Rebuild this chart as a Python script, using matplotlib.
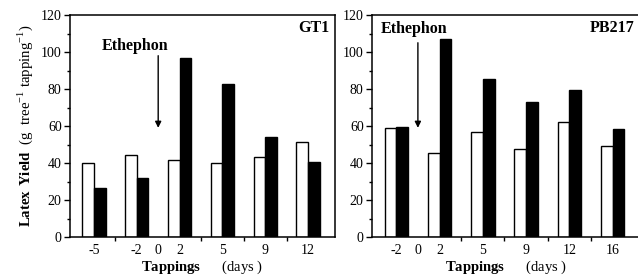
import matplotlib
matplotlib.use("Agg")
import matplotlib.pyplot as plt
import numpy as np

plt.rcParams['font.family'] = ['Liberation Serif', 'DejaVu Serif']
plt.rcParams['mathtext.fontset'] = 'custom'
plt.rcParams['mathtext.rm'] = 'Liberation Serif'
plt.rcParams['mathtext.bf'] = 'Liberation Serif:bold'

# GT1 clone
gt1_days = ['-5', '-2', '2', '5', '9', '12']
gt1_control = [40, 44.5, 41.5, 40, 43.5, 51.5]
gt1_ethephon = [26.5, 32, 97, 82.5, 54, 40.5]

# PB217 clone
pb_days = ['-2', '2', '5', '9', '12', '16']
pb_control = [58.8, 45.2, 56.8, 47.5, 62, 49.3]
pb_ethephon = [59.2, 107, 85.5, 73, 79.5, 58.5]

fig = plt.figure(figsize=(6.38, 2.76), dpi=100)
ax1 = fig.add_axes([70/638, 1-237/276, 265/638, 222/276])
ax2 = fig.add_axes([372/638, 1-237/276, 268/638, 222/276])

bar_w = 0.27


def panel(ax, days, control, treated, zero_pos, name, eth_xy, arrow_top):
    idx = np.arange(len(days))
    ax.bar(idx - bar_w/2, control, bar_w, color='white', edgecolor='black', linewidth=1.0)
    ax.bar(idx + bar_w/2, treated, bar_w, color='black', edgecolor='black', linewidth=1.0)
    ax.set_ylim(0, 120)
    ax.set_xlim(-0.56, 5.63)
    ax.set_yticks(np.arange(0, 121, 20))
    ax.set_yticks(np.arange(0, 121, 10), minor=True)
    ax.tick_params(axis='y', which='major', length=4, width=1, pad=2, labelsize=10)
    ax.tick_params(axis='y', which='minor', length=2, width=1)

    pos = list(idx) + [zero_pos]
    labels = list(days) + ['0']
    ax.set_xticks(pos)
    ax.set_xticklabels(labels)
    ax.set_xticks(idx[:-1] + 0.5, minor=True)
    ax.tick_params(axis='x', which='major', length=0, pad=5, labelsize=10)
    ax.tick_params(axis='x', which='minor', length=3, width=1)
    for s in ax.spines.values():
        s.set_linewidth(1.1)

    ax.set_xlabel(r'$\bf{Tappings}$      (days )', fontsize=10.5, labelpad=1)
    ax.text(5.5, 113, name, ha='right', va='center', fontsize=11.5, fontweight='bold')
    ax.text(eth_xy[0], eth_xy[1], 'Ethephon', ha='center', va='center',
            fontsize=11.5, fontweight='bold')
    ax.annotate('', xy=(zero_pos, 59), xytext=(zero_pos, arrow_top),
                arrowprops=dict(arrowstyle='-|>', color='black', lw=1,
                                mutation_scale=9, shrinkA=0, shrinkB=0))


panel(ax1, gt1_days, gt1_control, gt1_ethephon, 1.5, 'GT1', (0.96, 103), 98)
panel(ax2, pb_days, pb_control, pb_ethephon, 0.5, 'PB217', (0.42, 112.5), 105)

ax1.set_ylabel(r'$\bf{Latex\ Yield}$  (g  tree$^{-1}$ tapping$^{-1}$)',
               fontsize=10.7, labelpad=4)

fig.savefig('out.png', dpi=100)
